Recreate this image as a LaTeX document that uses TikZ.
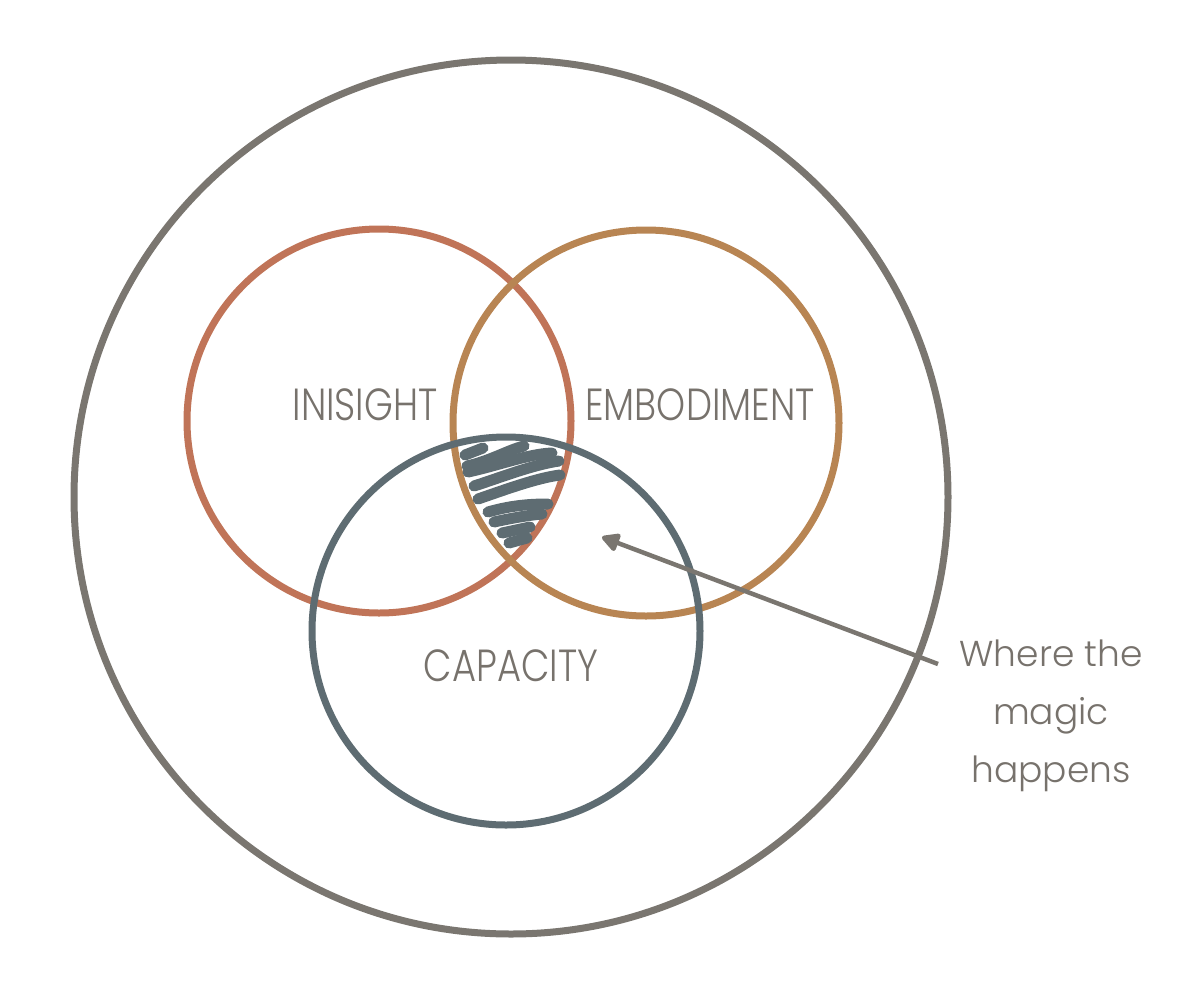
\documentclass[tikz,border=0pt]{standalone}
\usepackage{fontspec}
\setmainfont{Poppins}[UprightFont=* Light, FakeStretch=0.82]
\newfontfamily\notefont{Poppins}[UprightFont=* Light]
\usetikzlibrary{arrows.meta}
\definecolor{outerc}{HTML}{7A7670}
\definecolor{insc}{HTML}{C07458}
\definecolor{embc}{HTML}{B88553}
\definecolor{capc}{HTML}{5E6C72}
\definecolor{txtc}{HTML}{77726C}
\tikzset{
  ring/.style={line width=7pt},
  lab/.style={text=txtc, font=\fontsize{45}{45}\selectfont, inner sep=0pt},
  note/.style={text=txtc, font=\notefont\fontsize{36}{58}\selectfont, align=center, inner sep=0pt},
  scrib/.style={draw=capc, line width=11pt, line cap=round},
  pointer/.style={draw=outerc, line width=4.5pt, -{Triangle[length=20pt,width=20pt,round]}}
}
\begin{document}
\begin{tikzpicture}[x=1pt,y=-1pt]
\useasboundingbox (0,0) rectangle (1194,994);
\draw[ring, outerc] (511,497) circle[radius=437];
\draw[ring, insc] (379,421) circle[radius=192];
\draw[ring, embc] (646,423) circle[radius=193];
\draw[ring, capc] (506,631) circle[radius=194];
% scribble
\draw[scrib] (465,455) -- (483,448);
\draw[scrib] (467,466) .. controls (490,461) and (508,450) .. (524,446);
\draw[scrib] (468,472) .. controls (500,465) and (528,454) .. (552,453);
\draw[scrib] (474,486) .. controls (502,477) and (532,465) .. (559,461);
\draw[scrib] (478,499) .. controls (507,489) and (537,478) .. (560,475);
\draw[scrib] (488,512) .. controls (512,505) and (532,504) .. (548,504);
\draw[scrib] (494,522) .. controls (512,518) and (530,515) .. (542,514);
\draw[scrib] (502,533) -- (530,527);
\draw[scrib] (509,543) -- (527,538);
% labels
\node[lab, anchor=base] (ins) at (365,420) {INISIGHT};
\node[lab, anchor=base] (emb) at (700,420) {EMBODIMENT};
\node[lab, anchor=base] (cap) at (511,681) {CAPACITY};
\node[note, anchor=base] (magic) at (1051,782) {Where the\\magic\\happens};
\coordinate (tail) at (938,664);
\coordinate (tip) at (602,537);
\draw[pointer] (tail) -- (tip);
\end{tikzpicture}
\end{document}
